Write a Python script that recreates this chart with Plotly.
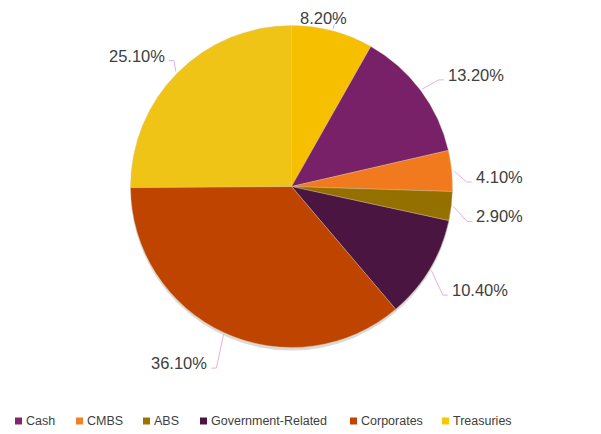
import math
import plotly.graph_objects as go

# ---------------- data ----------------
labels = ["Other", "Cash", "CMBS", "ABS", "Government-Related", "Corporates", "Treasuries"]
values = [8.2, 13.2, 4.1, 2.9, 10.4, 36.1, 25.1]
slice_colors = ["#F6C000", "#782068", "#F27A1E", "#947000", "#4A1541", "#BE4400", "#EFC416"]

legend_labels = ["Cash", "CMBS", "ABS", "Government-Related", "Corporates", "Treasuries"]
legend_colors = ["#86256F", "#F47F24", "#9A7400", "#4B1542", "#C04400", "#F5C800"]

# ---------------- layout constants (pixels of the 601x434 window) ----------------
OFF = 8                      # page body margin
W, H = 601 - OFF, 434 - OFF
CX, CY, R = 291.5, 186.5, 161.0
FONT = "Liberation Sans, Arial, sans-serif"
TEXT_COLOR = "#404040"
LEADER_COLOR = "#E6B0E2"
LEADER_LEN = 19
# per-label elbow nudges (dx, dy) in px, to mimic the reference label placement
label_nudge = [(0, 0), (3, 1), (-4, 13), (-3, 13), (-3, 16), (0, 18), (10, 1)]
legend_sq_x = [15, 76, 143, 200, 350, 442]
LEG_Y = 421
SQ = 7


def px2paper(x, y):
    return (x - OFF) / W, 1 - (y - OFF) / H


dx0, dy0 = px2paper(CX - R, CY + R)
dx1, dy1 = px2paper(CX + R, CY - R)

fig = go.Figure()

# soft shadow under the pie
sx0, sy0 = px2paper(CX - R, CY + R + 3)
sx1, sy1 = px2paper(CX + R, CY - R + 3)
fig.add_trace(go.Pie(
    values=[1], labels=["shadow"], sort=False,
    marker=dict(colors=["rgba(0,0,0,0.15)"], line=dict(width=0)),
    textinfo="none", hoverinfo="skip", showlegend=False,
    domain=dict(x=[sx0, sx1], y=[sy0, sy1]),
))

fig.add_trace(go.Pie(
    values=values, labels=labels, sort=False, direction="clockwise", rotation=0,
    marker=dict(colors=slice_colors, line=dict(color="rgba(225,200,160,0.6)", width=0.6)),
    textinfo="none", showlegend=False,
    domain=dict(x=[dx0, dx1], y=[dy0, dy1]),
))

shapes = []
annotations = []
total = sum(values)
cum = 0.0
for v, (ndx, ndy) in zip(values, label_nudge):
    mid = (cum + v / 2) / total * 2 * math.pi
    cum += v
    ux, uy = math.sin(mid), -math.cos(mid)
    sx, sy = CX + (R + 2) * ux, CY + (R + 2) * uy
    txt = f"{v:.2f}%"
    if abs(ux) < 0.35:
        # near the top: short vertical leader, text above
        ex, ey = CX + (R + 7) * ux, CY + (R + 7) * uy
        shapes.append(dict(type="line", xref="paper", yref="paper",
                           x0=px2paper(sx, sy)[0], y0=px2paper(sx, sy)[1],
                           x1=px2paper(ex, ey)[0], y1=px2paper(ex, ey)[1],
                           line=dict(color=LEADER_COLOR, width=1)))
        ax, ay = px2paper(ex - 11, ey + 5)
        annotations.append(dict(x=ax, y=ay, xref="paper", yref="paper", text=txt,
                                showarrow=False, xanchor="center", yanchor="bottom",
                                font=dict(family=FONT, size=16.5, color=TEXT_COLOR)))
    else:
        ex, ey = CX + (R + LEADER_LEN) * ux + ndx, CY + (R + LEADER_LEN) * uy + ndy
        side = 1 if ux > 0 else -1
        hx, hy = ex + side * 5, ey
        path = "M {} {} L {} {} L {} {}".format(
            *px2paper(sx, sy), *px2paper(ex, ey), *px2paper(hx, hy))
        shapes.append(dict(type="path", xref="paper", yref="paper", path=path,
                           line=dict(color=LEADER_COLOR, width=1)))
        ax, ay = px2paper(hx + side * 2, hy - 5)
        annotations.append(dict(x=ax, y=ay, xref="paper", yref="paper", text=txt,
                                showarrow=False,
                                xanchor="left" if side > 0 else "right", yanchor="middle",
                                font=dict(family=FONT, size=16.5, color=TEXT_COLOR)))

# custom legend
for lab, col, x in zip(legend_labels, legend_colors, legend_sq_x):
    x0, y0 = px2paper(x, LEG_Y + SQ / 2)
    x1, y1 = px2paper(x + SQ, LEG_Y - SQ / 2)
    shapes.append(dict(type="rect", xref="paper", yref="paper", x0=x0, y0=y0, x1=x1, y1=y1,
                       fillcolor=col, line=dict(width=0)))
    tx, ty = px2paper(x + SQ + 2, LEG_Y)
    annotations.append(dict(x=tx, y=ty, xref="paper", yref="paper", text=lab,
                            showarrow=False, xanchor="left", yanchor="middle",
                            font=dict(family=FONT, size=12.5, color=TEXT_COLOR)))

fig.update_layout(
    width=W, height=H,
    margin=dict(l=0, r=0, t=0, b=0),
    paper_bgcolor="white", plot_bgcolor="white",
    showlegend=False,
    shapes=shapes, annotations=annotations,
)

fig.write_html("out.html")
